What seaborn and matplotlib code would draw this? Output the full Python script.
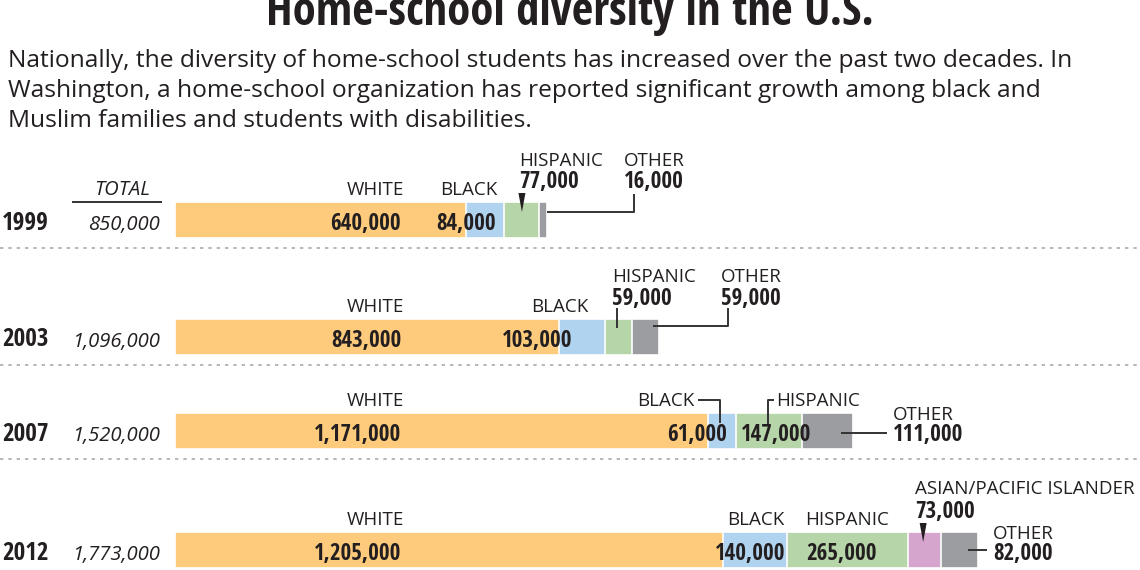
import numpy as np
import pandas as pd
import matplotlib
matplotlib.use("Agg")
import matplotlib.pyplot as plt
from matplotlib import font_manager as fm
import seaborn as sns

# data
years = ["1999", "2003", "2007", "2012"]
totals = ["850,000", "1,096,000", "1,520,000", "1,773,000"]
groups = ["WHITE", "BLACK", "HISPANIC", "ASIAN/PACIFIC ISLANDER", "OTHER"]
white = [640000, 843000, 1171000, 1205000]
black = [84000, 103000, 61000, 140000]
hispanic = [77000, 59000, 147000, 265000]
asian = [0, 0, 0, 73000]
other = [16000, 59000, 111000, 82000]

colors = {"WHITE": "#fdcb7b", "BLACK": "#b0d3ef", "HISPANIC": "#b6d5a8",
          "ASIAN/PACIFIC ISLANDER": "#d5a5ce", "OTHER": "#9c9da0"}
ink = "#231f20"

# layout (figure pixels)
row_y = [220, 336.5, 431, 550]   # bar centres
bar_h = 36
X0 = 175          # where the bars start
PX = 0.000455     # pixels per student

sns.set_theme(style="white")
plt.rcParams["font.family"] = ["Open Sans", "DejaVu Sans"]

F_BOLD = fm.FontProperties(family=["Open Sans Condensed", "Open Sans", "DejaVu Sans"],
                           weight="bold", stretch="condensed")
F_REG = fm.FontProperties(family=["Open Sans", "DejaVu Sans"], stretch="normal")
F_ITAL = fm.FontProperties(family=["Open Sans", "DejaVu Sans"], stretch="normal", style="italic")

# cumulative ends, drawn largest first so the segments stack
rows = []
for i, y in enumerate(row_y):
    cum = 0
    for g, vals in zip(groups, [white, black, hispanic, asian, other]):
        if vals[i] > 0:
            rows.append({"ypos": y, "group": g, "start": cum, "end": cum + vals[i]})
            cum += vals[i]
df = pd.DataFrame(rows)

fig = plt.figure(figsize=(11.4, 5.7), dpi=100)
ax = fig.add_axes([0, 0, 1, 1])
min_gap = np.min(np.diff(sorted(set(row_y))))
sns.barplot(data=df, x="end", y="ypos", hue="group", hue_order=groups[::-1],
            palette=colors, saturation=1, orient="h", native_scale=True, dodge=False,
            width=bar_h / min_gap, errorbar=None, legend=False,
            edgecolor="white", linewidth=1.2, ax=ax)
ax.set_xlim(-X0 / PX, (1140 - X0) / PX)
ax.set_ylim(570, 0)
ax.axis("off")

renderer = fig.canvas.get_renderer()


def fit(base, sample, width_px):
    # font size at which `sample` is as wide as in the reference
    p = base.copy()
    p.set_size(10)
    t = fig.text(0, 0, sample, fontproperties=p)
    w = t.get_window_extent(renderer).width
    t.remove()
    p = base.copy()
    p.set_size(10 * width_px / w)
    return p


P_BOLD = fit(F_BOLD, "640,000", 70)
P_YEAR = fit(F_BOLD, "1999", 47)
P_REG = fit(F_REG, "WHITE", 57)
P_ITAL = fit(F_ITAL, "850,000", 72)
P_TITLE = fit(F_BOLD, "Home-school diversity in the U.S.", 607)
intro = ["Nationally, the diversity of home-school students has increased over the past two decades. In",
         "Washington, a home-school organization has reported significant growth among black and",
         "Muslim families and students with disabilities."]
P_INTRO = fit(F_REG, intro[0], 1060)


def X(px):
    return (px - X0) / PX


def seg(i, g):
    r = df[(df.ypos == row_y[i]) & (df.group == g)].iloc[0]
    return X0 + r.start * PX, X0 + r.end * PX


def txt(px, py, s, ha="left", face="reg"):
    props = {"reg": P_REG, "bold": P_BOLD, "ital": P_ITAL, "year": P_YEAR}[face]
    ax.text(X(px), py, s, ha=ha, va="baseline", color=ink, fontproperties=props)


def line(xs, ys):
    ax.plot([X(v) for v in xs], ys, color="#333333", lw=1.4, solid_capstyle="butt")


def tri(cx, top):
    ax.fill([X(cx - 3.5), X(cx + 3.5), X(cx)], [top - 9, top - 9, top + 10], color=ink, lw=0)


# title and intro
fig.text(0.5, 1 - 25 / 570, "Home-school diversity in the U.S.", ha="center", va="baseline",
         color=ink, fontproperties=P_TITLE)
for k, s in enumerate(intro):
    fig.text(8 / 1140, 1 - (67 + 30 * k) / 570, s, ha="left", va="baseline", color=ink,
             fontproperties=P_INTRO)

# row labels, totals, separators
for i, y in enumerate(row_y):
    top = y - bar_h / 2
    txt(2, top + 28, years[i], face="year")
    txt(160, top + 28, totals[i], ha="right", face="ital")
    txt(404, top - 7, "WHITE", ha="right")
    txt(401, top + 28, f"{white[i]:,}", ha="right", face="bold")
    if i < 3:
        yy = y + bar_h / 2 + 10
        ax.plot([X(0), X(1140)], [yy, yy], color="#aaaaaa", lw=1.2, ls=(0, (2, 3)))
top0 = row_y[0] - bar_h / 2
txt(122, top0 - 7, "TOTAL", ha="center", face="ital")
line([72, 162], [top0, top0])

# 1999
top = row_y[0] - bar_h / 2
txt(440, top - 7, "BLACK")
txt(436, top + 28, f"{black[0]:,}", face="bold")
txt(519, top - 36, "HISPANIC")
txt(519, top - 14, f"{hispanic[0]:,}", face="bold")
txt(624, top - 36, "OTHER")
txt(624, top - 14, f"{other[0]:,}", face="bold")
h0, h1 = seg(0, "HISPANIC")
tri((h0 + h1) / 2, top)
o0, o1 = seg(0, "OTHER")
line([o1, 634, 634], [top + 10, top + 10, top - 8])

# 2003
top = row_y[1] - bar_h / 2
txt(531, top - 7, "BLACK")
txt(502, top + 28, f"{black[1]:,}", face="bold")
txt(612, top - 36, "HISPANIC")
txt(612, top - 14, f"{hispanic[1]:,}", face="bold")
txt(721, top - 36, "OTHER")
txt(721, top - 14, f"{other[1]:,}", face="bold")
h0, h1 = seg(1, "HISPANIC")
line([h0 + 12, h0 + 12], [top - 11, top + 9])
o0, o1 = seg(1, "OTHER")
line([o1 - 6, 728, 728], [top + 7, top + 7, top - 11])

# 2007
top = row_y[2] - bar_h / 2
b0, b1 = seg(2, "BLACK")
txt(694, top - 7, "BLACK", ha="right")
line([698, (b0 + b1) / 2 - 2, (b0 + b1) / 2 - 2], [top - 13, top - 13, top + 10])
txt(727, top + 28, f"{black[2]:,}", ha="right", face="bold")
h0, h1 = seg(2, "HISPANIC")
txt(776, top - 7, "HISPANIC")
line([774, h0 + 32, h0 + 32], [top - 13, top - 13, top + 12])
txt(741, top + 28, f"{hispanic[2]:,}", face="bold")
o0, o1 = seg(2, "OTHER")
txt(893, top + 7, "OTHER")
txt(893, top + 28, f"{other[2]:,}", face="bold")
line([o1 - 12, 887], [top + 20, top + 20])

# 2012
top = row_y[3] - bar_h / 2
txt(727, top - 7, "BLACK")
txt(715, top + 28, f"{black[3]:,}", face="bold")
txt(805, top - 7, "HISPANIC")
txt(806, top + 28, f"{hispanic[3]:,}", face="bold")
txt(915, top - 38, "ASIAN/PACIFIC ISLANDER")
txt(915, top - 14, f"{asian[3]:,}", face="bold")
a0, a1 = seg(3, "ASIAN/PACIFIC ISLANDER")
tri((a0 + a1) / 2 - 1, top)
o0, o1 = seg(3, "OTHER")
txt(993, top + 7, "OTHER")
txt(993, top + 28, f"{other[3]:,}", face="bold")
line([o1 - 10, 987], [top + 18, top + 18])

fig.savefig("out.png", dpi=100)
